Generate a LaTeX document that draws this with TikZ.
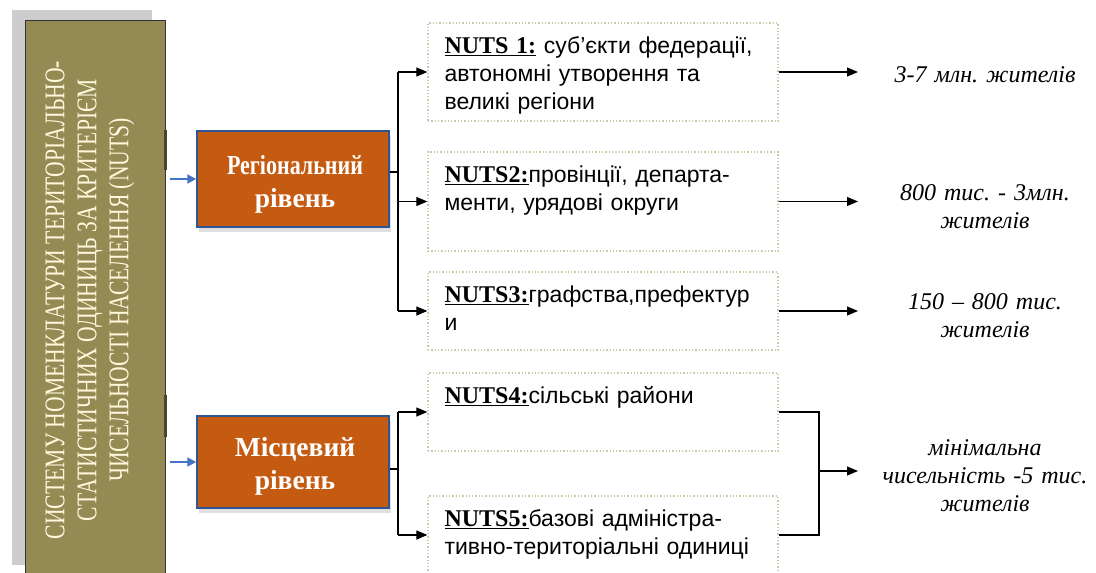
\documentclass[tikz,border=0pt]{standalone}
\usepackage{fontspec}
\setmainfont{Liberation Serif}
\newfontfamily\sansf{Liberation Sans}
\newfontfamily\condf[FakeStretch=0.76]{Liberation Serif}
\usetikzlibrary{arrows.meta,shadows,calc}
\definecolor{sysolive}{HTML}{948A54}
\definecolor{sysshadow}{HTML}{CDCDCD}
\definecolor{cream}{HTML}{FFF8DC}
\definecolor{tabdark}{HTML}{4A4428}
\definecolor{lvlfill}{HTML}{C55A11}
\definecolor{lvlborder}{HTML}{2F5597}
\definecolor{bluearr}{HTML}{4472C4}
\definecolor{dotborder}{HTML}{CFC8A8}
\frenchspacing
\tikzset{
  sysbox/.style={draw=black!80, line width=0.8pt, fill=sysolive, minimum width=140pt, minimum height=560pt, inner sep=0pt},
  lvlbox/.style={draw=lvlborder, line width=1.5pt, fill=lvlfill, minimum width=192pt,
     drop shadow={opacity=0.25, shadow xshift=2pt, shadow yshift=-5pt}},
  lvltext/.style={text=white, align=center, inner sep=0pt, font=\bfseries\fontsize{27.5}{33}\selectfont},
  nutsbox/.style={draw=dotborder, dotted, line width=1.3pt, minimum width=350pt, inner sep=0pt},
  nutstext/.style={anchor=north west, inner sep=0pt, align=left, text width=335pt,
     font=\sansf\fontsize{23}{28}\selectfont},
  restext/.style={align=center, text width=240pt, inner sep=0pt, font=\itshape\fontsize{24}{28}\selectfont},
  conn/.style={black, line width=1.2pt},
  arr/.style={conn, -{Triangle[length=11pt,width=9pt]}},
  bluearrow/.style={bluearr, line width=2pt, -{Triangle[length=9pt,width=9pt]}},
}
\newcommand{\nutslabel}[1]{\underline{\rmfamily\bfseries\fontsize{24}{28}\selectfont #1}}
\begin{document}
\begin{tikzpicture}[x=1pt,y=-1pt]
\useasboundingbox (0,0) rectangle (1096,573);
\clip (0,0) rectangle (1096,573);
\fill[white] (0,0) rectangle (1096,573);

% left system box
\fill[sysshadow] (12,10) rectangle (152,565);
\node[sysbox] (sys) at (95,300) {};
\node[rotate=90, text=cream, align=center, inner sep=0pt,
      font=\condf\fontsize{28.5}{32}\selectfont] (title) at (90,300)
  {СИСТЕМУ НОМЕНКЛАТУРИ ТЕРИТОРІАЛЬНО-\\СТАТИСТИЧНИХ ОДИНИЦЬ ЗА КРИТЕРІЄМ\\ЧИСЕЛЬНОСТІ НАСЕЛЕННЯ (NUTS)};
\draw[tabdark, line width=3pt] (165,130) -- (165,170);
\draw[tabdark, line width=3pt] (165,395) -- (165,437);

% level boxes
\node[lvlbox, minimum height=96pt] (reg) at (293,179) {};
\node[lvlbox, minimum height=92pt] (loc) at (293,462) {};
\node[lvltext] (regt) at (295,184) {\scalebox{0.8}[1]{Регіональний}\\рівень};
\node[lvltext] (loct) at (295,466) {Місцевий\\рівень};

\draw[bluearrow, shorten <=5pt] (reg.west -| sys.east) -- (reg.west);
\draw[bluearrow, shorten <=5pt] (loc.west -| sys.east) -- (loc.west);

% NUTS boxes
\node[nutsbox, minimum height=98pt] (n1) at (603,72) {};
\node[nutsbox, minimum height=99pt] (n2) at (603,201.5) {};
\node[nutsbox, minimum height=78pt] (n3) at (603,311) {};
\node[nutsbox, minimum height=78pt] (n4) at (603,412) {};
\node[nutsbox, minimum height=78pt] (n5) at (603,535) {};

\node[nutstext] (t1) at ($(n1.north west)+(17,14)$) {\nutslabel{NUTS 1:} суб’єкти федерації,\\автономні утворення та\\великі регіони};
\node[nutstext] (t2) at ($(n2.north west)+(17,14)$) {\nutslabel{NUTS2:}провінції, департа-\\менти, урядові округи};
\node[nutstext] (t3) at ($(n3.north west)+(17,14)$) {\nutslabel{NUTS3:}графства,префектур\\и};
\node[nutstext] (t4) at ($(n4.north west)+(17,14)$) {\nutslabel{NUTS4:}сільські райони};
\node[nutstext] (t5) at ($(n5.north west)+(17,14)$) {\nutslabel{NUTS5:}базові адміністра-\\тивно-територіальні одиниці};

% regional connectors
\coordinate (rj) at (398,172);
\draw[conn] (reg.east |- rj) -- (rj);
\draw[conn] (rj |- n1.west) -- (rj |- n3.west);
\draw[arr] (rj |- n1.west) -- (n1.west);
\draw[arr] (rj |- n2.west) -- (n2.west);
\draw[arr] (rj |- n3.west) -- (n3.west);

% local connectors
\coordinate (lj) at (398,469);
\draw[conn] (loc.east |- lj) -- (lj);
\draw[conn] (lj |- n4.west) -- (lj |- n5.west);
\draw[arr] (lj |- n4.west) -- (n4.west);
\draw[arr] (lj |- n5.west) -- (n5.west);

% result texts
\node[restext] (r1) at (985,75) {3-7 млн. жителів};
\node[restext] (r2) at (985,207) {800 тис. - 3млн.\\жителів};
\node[restext] (r3) at (985,316) {150 – 800 тис.\\жителів};
\node[restext] (r4) at (985,476) {мінімальна\\чисельність -5 тис.\\жителів};

\draw[arr] (n1.east) -- (858,72);
\draw[arr] (n2.east) -- (858,201.5);
\draw[arr] (n3.east) -- (858,311);

\coordinate (bj) at (819,471);
\draw[conn] (n4.east) -| (bj |- n5.east) -- (n5.east);
\draw[arr] (bj) -- (858,471);
\end{tikzpicture}
\end{document}
